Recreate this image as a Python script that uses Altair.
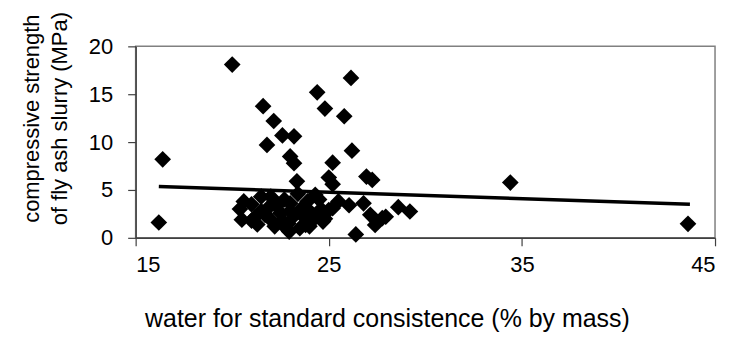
import altair as alt
import pandas as pd

# water for standard consistence (% by mass)
water = [16.2, 16.4, 20.0, 21.6, 22.15, 21.8, 22.6, 23.2, 23.0, 23.2,
         24.4, 24.8, 25.8, 26.15, 26.2, 25.2, 23.35, 25.0, 25.2, 26.95,
         27.25, 34.4, 43.6, 26.4, 28.6, 29.2, 27.95, 27.4, 27.15, 26.8,
         26.05, 25.5, 25.2, 24.5, 23.9, 23.8, 24.7, 25.0, 24.5, 20.6,
         20.4, 20.5, 21.0, 21.3, 21.5, 21.7, 22.0, 22.0, 22.3, 22.5,
         22.7, 22.9, 22.95, 23.2, 23.5, 23.6, 23.4, 22.2, 21.8, 24.1,
         24.3, 24.6, 24.2, 21.2, 22.6, 23.0, 23.8, 27.77, 21.5, 22.2,
         23.0, 23.9, 24.0, 21.0, 22.8, 24.8]
# compressive strength of fly ash slurry (MPa)
strength = [1.6, 8.2, 18.1, 13.75, 12.2, 9.7, 10.7, 10.6, 8.5, 7.8,
            15.2, 13.5, 12.7, 16.7, 9.1, 7.85, 5.9, 6.3, 5.6, 6.4,
            6.05, 5.77, 1.46, 0.35, 3.2, 2.75, 2.2, 1.35, 2.4, 3.6,
            3.4, 3.8, 3.1, 4.0, 3.8, 1.35, 1.7, 2.9, 2.4, 3.8,
            3.0, 1.9, 3.5, 1.4, 4.3, 2.4, 1.9, 4.3, 3.3, 2.6,
            4.0, 1.5, 0.65, 2.3, 1.0, 3.1, 4.6, 1.2, 3.0, 2.5,
            4.5, 3.0, 1.9, 2.2, 1.8, 3.6, 2.0, 2.05, 2.8, 3.8,
            2.8, 3.0, 1.2, 1.8, 1.0, 2.0]

# linear trend line end points
trend_x = [16.2, 43.7]
trend_y = [5.35, 3.5]

pts = pd.DataFrame({"x": water, "y": strength})
trend = pd.DataFrame({"x": trend_x, "y": trend_y})

FONT = "Liberation Sans"

xenc = alt.X("x:Q", scale=alt.Scale(domain=[15, 45], nice=False, zero=False),
             axis=alt.Axis(values=[15, 25, 35, 45], grid=False,
                           title="water for standard consistence (% by mass)",
                           titleX=252, titleY=89, titleBaseline="alphabetic",
                           titleAlign="center", titleFontSize=25, labelPadding=9))
yenc = alt.Y("y:Q", scale=alt.Scale(domain=[0, 20], nice=False),
             axis=alt.Axis(values=[0, 5, 10, 15, 20], grid=False,
                           title=["compressive strength", "of fly ash slurry (MPa)"],
                           titleAngle=270, titleX=-104, titleY=72,
                           titleBaseline="middle", titleAlign="center",
                           titleLineHeight=28, labelPadding=15))

points = alt.Chart(pts).mark_point(shape="diamond", filled=True, color="black",
                                   opacity=1, size=280).encode(x=xenc, y=yenc)
line = alt.Chart(trend).mark_line(color="black", strokeWidth=3.5).encode(x="x:Q", y="y:Q")

chart = alt.layer(points, line).properties(
    width=581, height=192,
    autosize=alt.AutoSizeParams(type="none"),
    padding={"left": 128, "top": 38, "right": 10, "bottom": 100},
).configure_view(stroke="#808080", strokeWidth=1.5).configure_axis(
    labelFont=FONT, titleFont=FONT, labelFontSize=22, titleFontSize=22,
    labelColor="black", titleColor="black", titleFontWeight="normal",
    domainColor="#404040", tickColor="#404040", tickSize=8, domainWidth=1.5,
    tickWidth=1.2,
)

chart.save("out.html", embed_options={"renderer": "svg", "actions": False})
